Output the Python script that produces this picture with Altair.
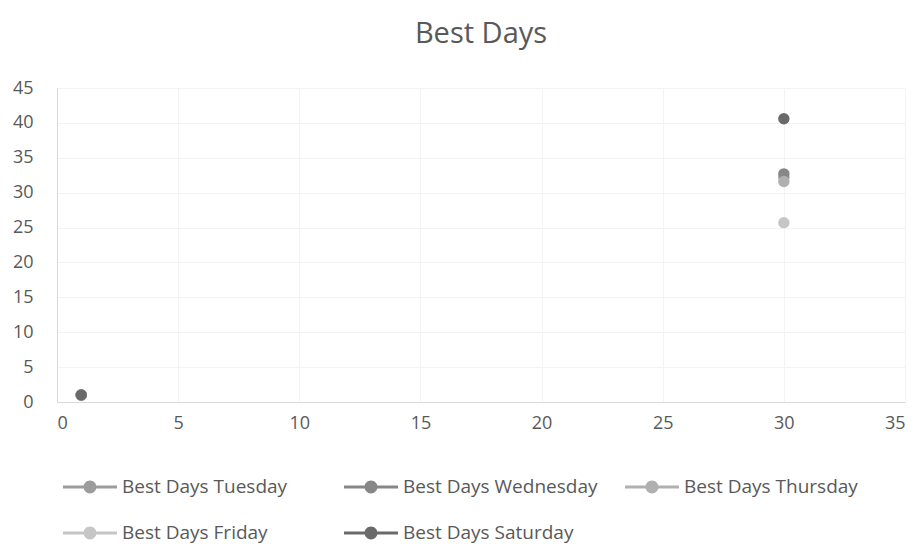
import altair as alt
import pandas as pd

series = ["Best Days Tuesday", "Best Days Wednesday", "Best Days Thursday",
          "Best Days Friday", "Best Days Saturday"]
colors = ["#9c9c9c", "#878787", "#b0b0b0", "#c6c6c6", "#6a6a6a"]
x_vals = [1, 30]
tuesday = [1, 32.2]
wednesday = [1, 32.7]
thursday = [1, 31.6]
friday = [1, 25.7]
saturday = [1, 40.6]
x_ticks = [0, 5, 10, 15, 20, 25, 30, 35]
y_ticks = [0, 5, 10, 15, 20, 25, 30, 35, 40, 45]

rows = []
for name, vals in zip(series, [tuesday, wednesday, thursday, friday, saturday]):
    for xv, yv in zip(x_vals, vals):
        rows.append({"series": name, "x": xv, "y": yv, "order": series.index(name)})
df = pd.DataFrame(rows)

FONT = "Open Sans"
TXT = "#595959"

legend_path = ("M-1,-0.056 L1,-0.056 L1,0.056 L-1,0.056 Z "
               "M0.24,0 A0.24,0.24 0 1,1 -0.24,0 A0.24,0.24 0 1,1 0.24,0 Z")

chart = alt.Chart(df).mark_point(filled=True, size=130, opacity=1).encode(
    x=alt.X("x:Q", scale=alt.Scale(domain=[0, 35], nice=False),
            axis=alt.Axis(values=x_ticks, title=None, grid=True, gridColor="#f3f3f3",
                          domainColor="#d9d9d9", ticks=False, labelPadding=12,
                          labelFontSize=18, labelColor=TXT, labelFont=FONT)),
    y=alt.Y("y:Q", scale=alt.Scale(domain=[0, 45], nice=False),
            axis=alt.Axis(values=y_ticks, title=None, grid=True, gridColor="#f3f3f3",
                          domainColor="#d9d9d9", ticks=False, labelPadding=24,
                          labelFontSize=18, labelColor=TXT, labelFont=FONT)),
    color=alt.Color("series:N", scale=alt.Scale(domain=series, range=colors),
                    legend=alt.Legend(title=None, orient="none", legendX=6, legendY=372,
                                      direction="horizontal",
                                      columns=3, gridAlign="all", columnPadding=27,
                                      rowPadding=9, symbolType=legend_path,
                                      symbolSize=2916, symbolStrokeWidth=0,
                                      labelFontSize=19, labelColor=TXT, labelFont=FONT,
                                      labelOffset=5, labelLimit=400)),
    order=alt.Order("order:Q"),
).properties(
    width=848, height=314,
    title=alt.TitleParams("Best Days", fontSize=29, font=FONT, color=TXT,
                          fontWeight="normal", anchor="middle", offset=30),
    autosize=alt.AutoSizeParams(type="none"),
    padding={"left": 49, "top": 80, "right": 10, "bottom": 142},
).configure_view(stroke=None)

chart.save("out.html", embed_options={"renderer": "svg", "actions": False})
